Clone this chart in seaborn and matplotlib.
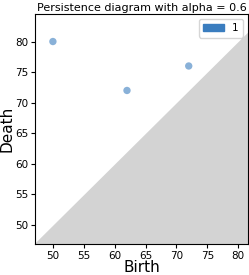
import matplotlib
matplotlib.use("Agg")
import matplotlib.pyplot as plt
import seaborn as sns
import pandas as pd
from matplotlib.patches import Patch

birth = [50, 62, 72]
death = [80, 72, 76]
dims = ["1", "1", "1"]
lims = [47.1, 81.6]
ylims = [46.9, 84.5]

df = pd.DataFrame({"Birth": birth, "Death": death, "dim": dims})
blue = "#3a7dbf"

fig = plt.figure(figsize=(2.49, 2.75), dpi=100)
ax = fig.add_axes([35 / 249, 31 / 275, 213 / 249, 230 / 275])

ax.fill_between(lims, lims, [ylims[0], ylims[0]], color="lightgray", zorder=0, linewidth=0)
sns.scatterplot(data=df, x="Birth", y="Death", hue="dim", palette=[blue],
                alpha=0.6, s=28, edgecolor="none", legend=False, ax=ax)

ax.set_xlim(lims)
ax.set_ylim(ylims)
ax.set_xticks([50, 55, 60, 65, 70, 75, 80])
ax.set_yticks([50, 55, 60, 65, 70, 75, 80])
ax.tick_params(labelsize=7.5, length=3, pad=2)
ax.set_xlabel("Birth", fontsize=11, labelpad=-1)
ax.set_ylabel("Death", fontsize=11, labelpad=0)
ax.set_title("Persistence diagram with alpha = 0.6", fontsize=8, pad=2)
ax.legend(handles=[Patch(color=blue, label="1")], loc="upper right", fontsize=7.5)

fig.savefig("out.png", dpi=100)
